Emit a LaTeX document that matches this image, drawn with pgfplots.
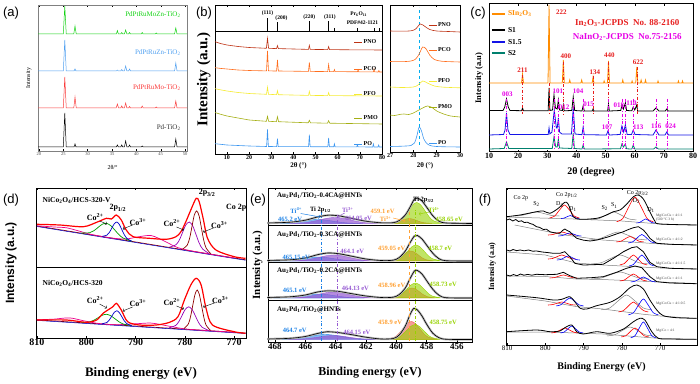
\documentclass[border=0pt]{standalone}
\usepackage{fontspec}
\setmainfont{Liberation Serif}
\setsansfont{Liberation Sans}
\usepackage{pgfplots}
\pgfplotsset{compat=1.18}
\newcommand\fs[1]{\fontsize{#1}{#1}\selectfont}
\definecolor{agreen}{RGB}{20,210,20}
\definecolor{ablue}{RGB}{80,160,240}
\definecolor{ared}{RGB}{250,60,60}
\definecolor{pno}{RGB}{190,50,20}
\definecolor{pco}{RGB}{255,110,30}
\definecolor{pfo}{RGB}{245,235,50}
\definecolor{pmo}{RGB}{165,175,20}
\definecolor{po}{RGB}{60,150,240}
\definecolor{corange}{RGB}{255,140,0}
\definecolor{cblue}{RGB}{20,20,230}
\definecolor{cteal}{RGB}{0,128,110}
\definecolor{cred}{RGB}{230,30,30}
\definecolor{cmag}{RGB}{230,0,230}
\definecolor{dgreen}{RGB}{0,160,0}
\definecolor{dblue}{RGB}{0,0,200}
\definecolor{dpurple}{RGB}{150,0,180}
\definecolor{ddred}{RGB}{140,0,0}
\definecolor{eblue}{RGB}{30,130,230}
\definecolor{epurple}{RGB}{150,90,210}
\definecolor{eorange}{RGB}{255,160,50}
\definecolor{ered}{RGB}{240,90,80}
\definecolor{egreen}{RGB}{150,210,0}
\pgfplotsset{
 panel/.style={scale only axis, anchor=south west, clip=false, ytick=\empty,
   axis line style={line width=0.6pt}, tick style={black, line width=0.4pt},
   major tick length=2pt, /pgf/number format/assume math mode=true,
   xticklabel style={inner sep=1pt}},
}
\begin{document}
\begin{tikzpicture}
\useasboundingbox (0pt,0pt) rectangle (700pt,383pt);
% ---------------- (a)
\begin{axis}[panel, at={(38pt,232pt)}, width=149pt, height=146pt,
  xmin=19.8, xmax=50.4, ymin=0, ymax=146, xtick={20,25,...,50},
  axis line style={gray, line width=0.4pt},
  ticklabel style={font=\fs{4.5}, text=black!70},
  xlabel={2θ/°}, xlabel style={font=\fs{6}, at={(axis description cs:0.5,0)}, anchor=center, yshift=-16pt},
  ylabel={Intensity}, ylabel style={font=\fs{6}, at={(axis description cs:-0.02,0.5)}, anchor=south}]
\addplot[black, line width=0.5pt] coordinates {(19.8,4)(25.0,4)(25.3,38)(25.6,4)(27.2,4)(27.4,7)(27.6,4)(35.9,4)(36.1,6)(36.3,4)(36.8,4)(37.0,6)(37.2,4)(37.55,4)(37.8,10)(38.05,4)(38.4,4)(38.6,6)(38.8,4)(41.0,4)(41.2,5)(41.4,4)(47.85,4)(48.1,12)(48.35,4)(50.4,4)};
\addplot[ared, line width=0.5pt] coordinates {(19.8,43)(25.0,43)(25.3,74)(25.6,43)(27.15,43)(27.4,54)(27.65,43)(35.85,43)(36.1,47)(36.35,43)(36.8,43)(37.0,45)(37.2,43)(37.55,43)(37.8,48)(38.05,43)(38.4,43)(38.6,44.5)(38.8,43)(41.0,43)(41.2,45)(41.4,43)(43.9,43)(44.1,44)(44.3,43)(47.85,43)(48.1,50)(48.35,43)(50.4,43)};
\addplot[ablue, line width=0.5pt] coordinates {(19.8,80)(25.0,80)(25.3,111)(25.6,80)(27.2,80)(27.4,82)(27.6,80)(35.9,80)(36.1,81)(36.3,80)(36.8,80)(37.0,81.5)(37.2,80)(37.55,80)(37.8,85)(38.05,80)(38.4,80)(38.6,82)(38.8,80)(47.85,80)(48.1,88)(48.35,80)(50.4,80)};
\addplot[agreen, line width=0.5pt] coordinates {(19.8,117)(25.0,117)(25.3,145)(25.6,117)(27.15,117)(27.4,125)(27.65,117)(35.9,117)(36.1,120.5)(36.3,117)(36.8,117)(37.0,118.5)(37.2,117)(37.55,117)(37.8,121)(38.05,117)(38.4,117)(38.6,118.5)(38.8,117)(41.0,117)(41.2,118.5)(41.4,117)(43.9,117)(44.1,118)(44.3,117)(47.85,117)(48.1,123)(48.35,117)(50.4,117)};
\node[anchor=east, font=\fs{7}, text=agreen] at (axis cs:49.8,136) {PdPtRuMoZn-TiO\textsubscript{2}};
\node[anchor=east, font=\fs{7}, text=ablue] at (axis cs:49.8,98) {PdPtRuZn-TiO\textsubscript{2}};
\node[anchor=east, font=\fs{7}, text=ared] at (axis cs:49.8,63) {PdPtRuMo-TiO\textsubscript{2}};
\node[anchor=east, font=\fs{7}, text=black!80] at (axis cs:49.8,23) {Pd-TiO\textsubscript{2}};
\end{axis}
% ---------------- (b) main
\begin{axis}[panel, at={(215pt,229pt)}, width=167pt, height=149pt,
  xmin=4.6, xmax=80, ymin=0, ymax=149, xtick={10,20,...,80},
  ticklabel style={font=\bfseries\fs{6}},
  xlabel={2θ (°)}, xlabel style={font=\bfseries\fs{7}, at={(axis description cs:0.5,0)}, anchor=center, yshift=-12pt},
  ylabel={Intensity (a.u.)}, ylabel style={font=\bfseries\fs{15}, at={(axis description cs:-0.005,0.5)}, anchor=south}]
\addplot[black, line width=0.5pt] coordinates {(4.6,123)(80,123)};
\draw[black, line width=1pt] (axis cs:28.3,123) -- (axis cs:28.3,136);
\draw[black, line width=0.8pt] (axis cs:32.8,123) -- (axis cs:32.8,132);
\draw[black, line width=0.8pt] (axis cs:47.2,123) -- (axis cs:47.2,133);
\draw[black, line width=0.8pt] (axis cs:55.9,123) -- (axis cs:55.9,133);
\draw[black, line width=0.5pt] (axis cs:58.3,123) -- (axis cs:58.3,126);
\draw[black, line width=0.5pt] (axis cs:68.6,123) -- (axis cs:68.6,126);
\draw[black, line width=0.5pt] (axis cs:76.4,123) -- (axis cs:76.4,126);
\draw[black, line width=0.5pt] (axis cs:78.6,123) -- (axis cs:78.6,126);
\node[font=\bfseries\fs{5.5}] at (axis cs:28.3,141) {(111)};
\node[font=\bfseries\fs{5.5}] at (axis cs:34.6,136) {(200)};
\node[font=\bfseries\fs{5.5}] at (axis cs:47.2,136.5) {(220)};
\node[font=\bfseries\fs{5.5}] at (axis cs:56.5,136.5) {(311)};
\node[font=\bfseries\fs{5.5}] at (axis cs:69.5,140) {Pr\textsubscript{6}O\textsubscript{11}};
\node[font=\bfseries\fs{5.5}] at (axis cs:71.2,131) {PDF\#42-1121};
\addplot[pno, line width=0.6pt] coordinates {(4.6,112.3)(7,110.5)(10,109)(15,107.5)(20,106.5)(27.8,105.7)(28.3,115.7)(28.8,105.7)(32.4,105.4)(32.8,108.4)(33.2,105.4)(46.8,104.6)(47.2,108.6)(47.6,104.6)(55.5,104.4)(55.9,107.4)(56.3,104.4)(65,104.2)(80,104)};
\addplot[pco, line width=0.6pt] coordinates {(4.6,86.3)(7,85.6)(10,85)(15,84)(20,83.5)(27.85,83.1)(28.3,103)(28.75,83.1)(32.4,83)(32.8,94)(33.2,83)(46.8,82.6)(47.2,91.6)(47.6,82.6)(55.5,82.4)(55.9,89.4)(56.3,82.4)(58.2,82.4)(58.5,84.4)(58.8,82.4)(68.9,82.2)(69.2,84.2)(69.5,82.2)(76.1,82.1)(76.4,85.1)(76.7,82.1)(78.3,82)(78.6,83.5)(78.9,82)(80,82)};
\addplot[pfo, line width=0.6pt] coordinates {(4.6,65.3)(7,64.2)(10,63)(15,61.5)(20,60.5)(27.85,59.7)(28.3,66.7)(28.75,59.7)(32.4,59.3)(32.8,63.3)(33.2,59.3)(46.8,58.6)(47.2,62.6)(47.6,58.6)(55.5,58.4)(55.9,61.4)(56.3,58.4)(80,58)};
\addplot[pmo, line width=0.6pt] coordinates {(4.6,41.5)(7,39.8)(10,38)(15,36)(20,34)(27.8,32.7)(28.3,37.7)(28.8,32.7)(32.3,32.3)(32.8,37.3)(33.3,32.3)(46.7,31.2)(47.2,33.7)(47.7,31.2)(55.4,30.8)(55.9,33.3)(56.4,30.8)(80,30)};
\addplot[po, line width=0.6pt] coordinates {(4.6,10.3)(10,9)(20,8)(27.9,7.5)(28.3,24.5)(28.7,7.5)(32.45,7.4)(32.8,15.4)(33.15,7.4)(46.85,7.3)(47.2,19.3)(47.55,7.3)(55.55,7.2)(55.9,16.2)(56.25,7.2)(58.2,7.2)(58.5,10.2)(58.8,7.2)(68.6,7.1)(68.9,9.1)(69.2,7.1)(75.8,7)(76.1,10)(76.4,7)(78.2,7)(78.5,9)(78.8,7)(80,7)};
\addplot[pno, line width=0.8pt] coordinates {(67.4,112)(71,112)};
\addplot[pco, line width=0.8pt] coordinates {(67.4,85)(71,85)};
\addplot[pfo, line width=0.8pt] coordinates {(67.4,60)(71,60)};
\addplot[pmo, line width=0.8pt] coordinates {(67.4,36)(71,36)};
\addplot[po, line width=0.8pt] coordinates {(67.4,10)(71,10)};
\node[anchor=west, font=\bfseries\fs{6}, inner sep=1pt] at (axis cs:71.2,112) {PNO};
\node[anchor=west, font=\bfseries\fs{6}, inner sep=1pt] at (axis cs:71.2,85) {PCO};
\node[anchor=west, font=\bfseries\fs{6}, inner sep=1pt] at (axis cs:71.2,60) {PFO};
\node[anchor=west, font=\bfseries\fs{6}, inner sep=1pt] at (axis cs:71.2,36) {PMO};
\node[anchor=west, font=\bfseries\fs{6}, inner sep=1pt] at (axis cs:71.2,10) {PO};
\end{axis}
% ---------------- (b) inset
\begin{axis}[panel, at={(390pt,231pt)}, width=70pt, height=147pt,
  xmin=27, xmax=30, ymin=0, ymax=147, xtick={27,28,29,30},
  ticklabel style={font=\bfseries\fs{6}},
  xlabel={2θ (°)}, xlabel style={font=\bfseries\fs{7}, at={(axis description cs:0.5,0)}, anchor=center, yshift=-14pt}]
\addplot[cyan, dashed, line width=0.7pt] coordinates {(28.25,7)(28.25,145)};
\addplot[pno, smooth, line width=0.6pt] coordinates {(27,121)(27.5,120.8)(27.9,121.2)(28.1,123)(28.3,128)(28.5,125.5)(28.7,122.5)(29,121)(29.5,120.5)(30,120)};
\addplot[pco, smooth, line width=0.6pt] coordinates {(27,90.5)(27.5,90.3)(27.9,91)(28.1,93)(28.25,98)(28.4,105)(28.55,103)(28.7,97)(28.9,92.5)(29.2,90.8)(29.6,90.3)(30,90)};
\addplot[pfo, smooth, line width=0.6pt] coordinates {(27,65)(27.5,64.5)(28,65)(28.2,67)(28.4,71)(28.6,69)(28.9,66)(29.3,64.8)(30,64.2)};
\addplot[pmo, smooth, line width=0.6pt] coordinates {(27,37)(27.2,36.5)(27.4,37.5)(27.6,38)(27.8,37.5)(28,39)(28.2,41.5)(28.4,44)(28.6,46)(28.8,44.5)(29,41)(29.3,38)(29.6,36)(30,35)};
\addplot[po, smooth, line width=0.6pt] coordinates {(27,5.5)(27.5,5.8)(27.9,6.5)(28.05,9)(28.15,16)(28.25,25)(28.35,21)(28.45,13)(28.6,8)(28.8,6)(29.2,5.3)(30,5)};
\addplot[pno, line width=0.8pt] coordinates {(28.67,127)(29.01,127)};
\addplot[pco, line width=0.8pt] coordinates {(28.67,102)(29.01,102)};
\addplot[pfo, line width=0.8pt] coordinates {(28.67,71)(29.01,71)};
\addplot[pmo, line width=0.8pt] coordinates {(28.67,45)(29.01,45)};
\addplot[po, line width=0.8pt] coordinates {(28.67,9)(29.01,9)};
\node[anchor=west, font=\bfseries\fs{6}, inner sep=0.5pt] at (axis cs:29.03,127) {PNO};
\node[anchor=west, font=\bfseries\fs{6}, inner sep=0.5pt] at (axis cs:29.03,102) {PCO};
\node[anchor=west, font=\bfseries\fs{6}, inner sep=0.5pt] at (axis cs:29.03,71) {PFO};
\node[anchor=west, font=\bfseries\fs{6}, inner sep=0.5pt] at (axis cs:29.03,45) {PMO};
\node[anchor=west, font=\bfseries\fs{6}, inner sep=0.5pt] at (axis cs:29.03,9) {PO};
\end{axis}
% ---------------- (c)
\begin{axis}[panel, at={(489pt,231pt)}, width=204pt, height=148pt,
  xmin=10, xmax=80, ymin=0, ymax=148, xtick={10,20,...,80},
  axis line style={line width=1pt},
  ticklabel style={font=\bfseries\fs{8}},
  xlabel={2θ (degree)}, xlabel style={font=\bfseries\fs{10}, at={(axis description cs:0.5,0)}, anchor=center, yshift=-20pt},
  ylabel={Intensity (a.u)}, ylabel style={font=\bfseries\fs{8.5}, at={(axis description cs:-0.012,0.5)}, anchor=south}]
\addplot[corange, line width=0.8pt] coordinates {(10,69)(21.15,69)(21.5,78)(21.85,69)(30.25,69)(30.6,147)(30.95,69)(35.15,69)(35.5,92)(35.85,69)(37.45,69)(37.7,72)(37.95,69)(41.55,69)(41.8,72)(42.05,69)(45.4,69)(45.7,75)(46.0,69)(49.3,69)(49.5,71)(49.7,69)(50.65,69)(51.0,91)(51.35,69)(55.65,69)(55.9,72)(56.15,69)(58.9,69)(59.1,71)(59.3,69)(60.35,69)(60.7,85)(61.05,69)(61.95,69)(62.2,72)(62.45,69)(63.45,69)(63.7,72)(63.95,69)(67.8,69)(68,71)(68.2,69)(74.8,69)(75,71)(75.2,69)(76.2,69)(76.4,71)(76.6,69)(80,69)};
\addplot[black, line width=0.8pt] coordinates {(10,41.5)(14.8,41.5)(15.4,45)(16.0,53)(16.6,45)(17.2,41.5)(21.2,41.3)(21.5,44)(21.8,41.3)(30.3,41.2)(30.6,64)(30.9,41.5)(31.8,42)(32.3,57)(32.8,44)(33.4,43)(33.8,52)(34.2,42)(35.2,41.5)(35.5,47)(35.8,41.2)(38.4,41.5)(38.9,55)(39.4,41.5)(41.9,41)(42.3,46)(42.7,41)(45.4,41)(45.7,43)(46.0,41)(50.7,41)(51.0,48)(51.3,41)(55.2,41.5)(55.6,47)(56.1,43)(56.8,49)(57.2,41.5)(59.0,41.2)(59.5,45)(60.0,42)(60.7,47)(61.0,41)(66.3,41)(67.3,44)(68.3,41)(70.5,41)(71,43)(71.5,41)(80,41)};
\addplot[cblue, line width=0.8pt] coordinates {(10,17)(15.0,17.5)(15.5,22)(16.0,39)(16.5,22)(17.2,17.5)(30.3,17.5)(30.6,24)(30.9,18)(31.6,20)(32.4,42)(33.1,24)(33.4,24)(33.8,34)(34.2,20)(35,18)(38.3,18)(38.9,44)(39.5,18)(41.9,17.3)(42.3,25)(42.7,17.3)(50.3,17)(50.8,21)(51.3,17)(55.0,17.5)(55.6,26)(56.2,20)(56.8,27)(57.4,17.5)(58.9,17.5)(59.5,22)(60.1,17.5)(66.3,17)(67.3,22)(68.3,17)(70.4,17)(71,20)(71.6,17)(80,17)};
\addplot[cteal, line width=0.8pt] coordinates {(10,3)(15.2,3.5)(16.0,10)(16.8,3.5)(31.7,3.5)(32.3,15)(32.9,5)(33.4,5)(33.8,13)(34.2,4)(38.4,3.5)(38.9,19)(39.3,3.5)(41.9,3)(42.3,7)(42.7,3)(55.1,3.2)(55.6,8)(56.1,5)(56.8,8)(57.2,3.2)(59,3)(59.5,7)(60,3)(66.5,3)(67.3,5)(68.1,3)(80,3)};
\foreach \xx/\yy in {21.5/77,30.6/69,35.5/90,45.7/76,51.0/90,60.7/85}{
 \edef\tmp{\noexpand\draw[cred, dash dot, line width=0.5pt] (axis cs:\xx,\yy) -- (axis cs:\xx,38);}\tmp}
\foreach \xx in {16.0,32.3,33.8,38.9,42.3,50.8,55.6,56.8,59.5,67.3,71}{
 \edef\tmp{\noexpand\draw[cmag, dash dot, line width=0.5pt] (axis cs:\xx,53) -- (axis cs:\xx,2);}\tmp}
\begin{scope}[every node/.style={font=\bfseries\fs{7}, text=cred, inner sep=0.5pt}]
\node at (axis cs:21.5,82) {211};
\node at (axis cs:34.8,140) {222};
\node at (axis cs:36.4,96) {400};
\node at (axis cs:46.3,80) {134};
\node at (axis cs:51.3,97) {440};
\node at (axis cs:61.2,90) {622};
\node[font=\bfseries\fs{9}] at (axis cs:57.4,129) {In\textsubscript{2}O\textsubscript{3}-JCPDS\ \ No. 88-2160};
\end{scope}
\begin{scope}[every node/.style={font=\bfseries\fs{7}, text=cmag, inner sep=0.5pt}]
\node[font=\bfseries\fs{9}] at (axis cs:57.4,115) {NaInO\textsubscript{2}-JCPDS\ \ No.75-2156};
\node at (axis cs:16.3,58) {003};
\node at (axis cs:33.6,61) {101};
\node at (axis cs:40.6,61) {104};
\node at (axis cs:44.2,48) {015};
\node at (axis cs:35.8,45) {012};
\node at (axis cs:54.6,47) {018};
\node at (axis cs:58.9,49) {110};
\node at (axis cs:50.5,25) {107};
\node at (axis cs:61.2,25) {113};
\node at (axis cs:67.4,26) {116};
\node at (axis cs:72.3,26) {024};
\end{scope}
\addplot[corange, line width=1.2pt] coordinates {(11,138)(15.5,138)};
\addplot[black, line width=1.2pt] coordinates {(11,122)(15.5,122)};
\addplot[cblue, line width=1.2pt] coordinates {(11,110)(15.5,110)};
\addplot[cteal, line width=1.2pt] coordinates {(11,99)(15.5,99)};
\node[anchor=west, font=\bfseries\fs{7.5}, text=corange, inner sep=0.5pt] at (axis cs:16.3,138) {SIn\textsubscript{2}O\textsubscript{3}};
\node[anchor=west, font=\bfseries\fs{7.5}, inner sep=0.5pt] at (axis cs:16.3,122) {S1};
\node[anchor=west, font=\bfseries\fs{7.5}, inner sep=0.5pt] at (axis cs:16.3,110) {S1.5};
\node[anchor=west, font=\bfseries\fs{7.5}, inner sep=0.5pt] at (axis cs:16.3,99) {S2};
\end{axis}
% ---------------- (d)
\begin{axis}[panel, at={(36pt,45pt)}, width=210pt, height=150pt,
  x dir=reverse, xmin=767.6, xmax=810.2, ymin=0, ymax=150, xtick={810,800,...,770},
  axis line style={line width=0.8pt},
  ticklabel style={font=\bfseries\fs{10}},
  xlabel={Binding energy (eV)}, xlabel style={font=\bfseries\fs{13}, at={(axis description cs:0.5,0)}, anchor=center, yshift=-35pt},
  ylabel={\sffamily Intensity (a.u.)}, ylabel style={font=\bfseries\fs{12}, at={(axis description cs:-0.075,0.5)}, anchor=south}]
\addplot[black, line width=0.6pt] coordinates {(767.6,71)(810.2,71)};
% top
\addplot[ddred, line width=0.7pt] coordinates {(810,112)(790,96)(770,80)(767.7,78.2)};
\addplot[dblue, line width=0.5pt] coordinates {(810,111.5)(790,95.5)(770,79.5)(767.7,77.8)};
\addplot[magenta, smooth, line width=0.7pt] coordinates {(810,112.2)(806.5,111.0)(804,110.2)(801.5,107.0)(799,103.6)(795,100.1)(792,99.0)(789.5,101.1)(786.8,102.4)(784,96.5)(781.5,90.5)(778,86.5)(770,80)};
\addplot[dgreen, smooth, line width=0.7pt] coordinates {(790.8,96.8)(792.5,99.9)(793.35,103.2)(794.2,107.9)(795.05,112.4)(795.9,114.7)(796.75,113.8)(797.6,110.6)(798.45,107.3)(799.3,105.3)(801.0,105.0)};
\addplot[dblue, smooth, line width=0.7pt] coordinates {(790.8,96.8)(791.8,99.7)(792.3,103.3)(792.8,108.5)(793.3,113.6)(793.8,116.0)(794.3,114.4)(794.8,110.1)(795.3,105.7)(795.8,102.9)(796.8,101.6)};
\addplot[dpurple, smooth, line width=0.7pt] coordinates {(775.05,84.3)(776.4,89.0)(777.1,95.0)(777.75,103.6)(778.4,112.0)(779.1,116.0)(779.8,113.1)(780.45,105.8)(781.1,98.2)(781.8,93.3)(783.15,90.8)};
\addplot[ddred, smooth, line width=0.7pt] coordinates {(774.75,84.3)(775.7,90.1)(776.2,98.3)(776.65,110.2)(777.1,121.9)(777.6,127.1)(778.1,122.7)(778.55,111.7)(779.0,100.5)(779.5,93.1)(780.45,88.9)};
\addplot[red, smooth, line width=1.2pt] coordinates {(810,113.7)(805.4,113)(800.6,111.3)(797.9,115.7)(795.9,119.7)(794.9,119)(793.9,123)(792.9,118)(791.9,108)(790.5,101.3)(787.2,99.7)(783.8,98.7)(781.8,101.3)(780.8,106.3)(779.8,116.3)(778.8,128)(777.7,139.7)(777.1,136.3)(776.3,119.7)(775.4,99.7)(773.7,88)(770,81.3)(767.7,79.7)};
% bottom
\addplot[ddred, line width=0.7pt] coordinates {(810,18.1)(790,11.9)(770,5.7)(767.7,5)};
\addplot[dblue, line width=0.5pt] coordinates {(810,17.6)(790,11.4)(770,5.2)(767.7,4.5)};
\addplot[magenta, smooth, line width=0.7pt] coordinates {(810,18.2)(806.5,18.9)(803.4,20.1)(800.5,17.2)(797.5,14.5)(794,13.3)(790,14.2)(786.8,14.9)(783.5,12.1)(780,9.1)(776,7.6)(770,5.7)};
\addplot[dgreen, smooth, line width=0.7pt] coordinates {(790.8,12.3)(792.5,14.0)(793.35,16.2)(794.2,19.3)(795.05,22.3)(795.9,23.7)(796.75,22.8)(797.6,20.3)(798.45,17.8)(799.3,16.1)(801.0,15.4)};
\addplot[dblue, smooth, line width=0.7pt] coordinates {(790.8,12.3)(791.8,14.4)(792.3,17.2)(792.8,21.4)(793.3,25.4)(793.8,27.3)(794.3,25.8)(794.8,22.0)(795.3,18.2)(795.8,15.6)(796.8,14.2)};
\addplot[dpurple, smooth, line width=0.7pt] coordinates {(775.15,7.55)(776.5,10.8)(777.2,15.3)(777.85,21.9)(778.5,28.3)(779.2,31.2)(779.9,28.8)(780.55,22.8)(781.2,16.6)(781.9,12.5)(783.25,10.05)};
\addplot[ddred, smooth, line width=0.7pt] coordinates {(774.8,7.6)(775.7,12.9)(776.15,20.6)(776.6,32.1)(777.05,43.2)(777.5,48.0)(777.95,43.5)(778.4,32.6)(778.85,21.4)(779.3,14.0)(780.2,9.3)};
\addplot[red, smooth, line width=1.2pt] coordinates {(810,18)(804,18)(800,15.7)(797.9,18)(796.6,24.7)(794.6,31.3)(793.9,34.7)(792.9,28)(791.6,16.3)(789.2,13)(785.8,13)(783.1,15.7)(781.4,21.3)(780.1,38)(778.8,53)(777.7,59.7)(776.7,53)(775.7,29.7)(774.4,13)(770,6.3)(767.7,4.7)};
\begin{scope}[every node/.style={font=\bfseries\fs{7.5}, inner sep=0.5pt}]
\node[anchor=west] at (axis cs:809,138) {NiCo\textsubscript{2}O\textsubscript{4}/HCS-320-V};
\node[anchor=west] at (axis cs:809,55) {NiCo\textsubscript{2}O\textsubscript{4}/HCS-320};
\node[font=\bfseries\fs{8}] at (axis cs:798.2,121) {Co\textsuperscript{2+}};
\node[font=\bfseries\fs{8}] at (axis cs:793.6,130) {2p\textsubscript{1/2}};
\node[font=\bfseries\fs{8}] at (axis cs:789.5,116) {Co\textsuperscript{3+}};
\node[font=\bfseries\fs{8}] at (axis cs:782.6,115) {Co\textsuperscript{2+}};
\node[font=\bfseries\fs{8}] at (axis cs:775.5,145) {2p\textsubscript{3/2}};
\node[font=\bfseries\fs{8}] at (axis cs:773.0,113) {Co\textsuperscript{3+}};
\node[font=\bfseries\fs{8}] at (axis cs:769.6,130) {Co 2p};
\node[font=\bfseries\fs{8}] at (axis cs:798.2,38) {Co\textsuperscript{2+}};
\node[font=\bfseries\fs{8}] at (axis cs:789.5,35) {Co\textsuperscript{3+}};
\node[font=\bfseries\fs{8}] at (axis cs:782.6,36) {Co\textsuperscript{2+}};
\node[font=\bfseries\fs{8}] at (axis cs:772.8,38) {Co\textsuperscript{3+}};
\end{scope}
\draw[->, line width=0.4pt] (axis cs:797.3,117) -- (axis cs:795.8,114);
\draw[->, line width=0.4pt] (axis cs:790.6,113) -- (axis cs:792.6,109);
\draw[->, line width=0.4pt] (axis cs:781.7,111) -- (axis cs:780.2,108);
\draw[->, line width=0.4pt] (axis cs:774.2,110) -- (axis cs:776.3,106);
\draw[->, line width=0.4pt] (axis cs:797.3,34) -- (axis cs:795.8,30);
\draw[->, line width=0.4pt] (axis cs:790.6,31) -- (axis cs:792.6,27);
\draw[->, line width=0.4pt] (axis cs:781.7,32) -- (axis cs:780.2,29);
\draw[->, line width=0.4pt] (axis cs:774.0,35) -- (axis cs:776.3,31);
\end{axis}
% ---------------- (e)
\begin{axis}[panel, at={(268pt,41pt)}, width=204pt, height=154pt,
  x dir=reverse, xmin=455, xmax=468.46, ymin=0, ymax=154, xtick={468,466,...,456},
  axis line style={line width=0.8pt},
  ticklabel style={font=\bfseries\fs{9}},
  xlabel={Binding energy (eV)}, xlabel style={font=\bfseries\fs{12}, at={(axis description cs:0.5,0)}, anchor=center, yshift=-31pt},
  ylabel={Intensity (a.u.)}, ylabel style={font=\bfseries\fs{11}, at={(axis description cs:-0.01,0.5)}, anchor=south}]
\addplot[black, line width=0.6pt] coordinates {(455,117)(468.46,117)};
\addplot[black, line width=0.6pt] coordinates {(455,80)(468.46,80)};
\addplot[black, line width=0.6pt] coordinates {(455,42)(468.46,42)};
% section 1
\addplot[smooth, draw=eblue, fill=eblue, fill opacity=0.55] coordinates {(462.2,118.5)(463.2,119.0)(463.7,119.8)(464.2,120.9)(464.7,122.0)(465.2,122.5)(465.7,122.0)(466.2,120.9)(466.7,119.8)(467.2,119.0)(468.2,118.5)} -- cycle;
\addplot[smooth, draw=epurple, fill=epurple, fill opacity=0.7] coordinates {(461.05,118.6)(462.05,119.3)(462.55,120.5)(463.05,122.1)(463.55,123.8)(464.05,124.5)(464.55,123.8)(465.05,122.1)(465.55,120.5)(466.05,119.3)(467.05,118.6)} -- cycle;
\addplot[smooth, draw=ered, fill=ered, fill opacity=0.6] coordinates {(457.65,118.6)(458.15,119.2)(458.4,120.1)(458.65,121.5)(458.9,122.9)(459.15,123.5)(459.4,122.9)(459.65,121.5)(459.9,120.1)(460.15,119.2)(460.65,118.6)} -- cycle;
\addplot[smooth, draw=egreen, fill=egreen, fill opacity=0.6] coordinates {(457.0,118.7)(457.55,121.3)(457.83,125.3)(458.1,131.2)(458.38,137.0)(458.65,139.5)(458.93,137.0)(459.2,131.2)(459.48,125.3)(459.75,121.3)(460.3,118.7)} -- cycle;
\addplot[smooth, gray!55, line width=2.2pt] coordinates {(468.5,119)(467,119.8)(466,121.8)(465.2,125)(464.5,126.8)(463.8,126.2)(463,123.8)(462,120.8)(461,119.2)(460.2,119.3)(459.8,121.5)(459.4,127)(459.1,134.5)(458.8,143)(458.6,144)(458.3,141)(458,135)(457.6,126.5)(457.2,121)(456.7,119)(455,118.5)};
\addplot[smooth, black, line width=0.6pt] coordinates {(468.5,119)(467,119.8)(466,121.8)(465.2,125)(464.5,126.8)(463.8,126.2)(463,123.8)(462,120.8)(461,119.2)(460.2,119.3)(459.8,121.5)(459.4,127)(459.1,134.5)(458.8,143)(458.6,144)(458.3,141)(458,135)(457.6,126.5)(457.2,121)(456.7,119)(455,118.5)};
% section 2
\addplot[smooth, draw=eblue, fill=eblue, fill opacity=0.55] coordinates {(462.15,81.0)(463.15,81.5)(463.65,82.3)(464.15,83.4)(464.65,84.5)(465.15,85.0)(465.65,84.5)(466.15,83.4)(466.65,82.3)(467.15,81.5)(468.15,81.0)} -- cycle;
\addplot[smooth, draw=epurple, fill=epurple, fill opacity=0.7] coordinates {(461.1,81.1)(462.1,81.8)(462.6,83.0)(463.1,84.6)(463.6,86.3)(464.1,87.0)(464.6,86.3)(465.1,84.6)(465.6,83.0)(466.1,81.8)(467.1,81.1)} -- cycle;
\addplot[smooth, draw=ered, fill=ered, fill opacity=0.6] coordinates {(457.55,81.1)(458.05,82.35)(458.3,84.25)(458.55,87.1)(458.8,89.8)(459.05,91.0)(459.3,89.8)(459.55,87.1)(459.8,84.25)(460.05,82.35)(460.55,81.1)} -- cycle;
\addplot[smooth, draw=egreen, fill=egreen, fill opacity=0.6] coordinates {(457.05,81.2)(457.6,83.2)(457.88,86.2)(458.15,90.7)(458.43,95.1)(458.7,97.0)(458.98,95.1)(459.25,90.7)(459.53,86.2)(459.8,83.2)(460.35,81.2)} -- cycle;
\addplot[smooth, gray!55, line width=2.2pt] coordinates {(468.5,81.5)(467,82.2)(466,84)(465.2,87.3)(464.5,89)(463.8,88.3)(463,86)(462,83)(461,81.5)(460.2,81.8)(459.8,84.5)(459.4,91)(459.1,99)(458.8,106)(458.6,106.5)(458.3,103)(458,97)(457.6,89)(457.2,83.5)(456.7,81.3)(455,81)};
\addplot[smooth, black, line width=0.6pt] coordinates {(468.5,81.5)(467,82.2)(466,84)(465.2,87.3)(464.5,89)(463.8,88.3)(463,86)(462,83)(461,81.5)(460.2,81.8)(459.8,84.5)(459.4,91)(459.1,99)(458.8,106)(458.6,106.5)(458.3,103)(458,97)(457.6,89)(457.2,83.5)(456.7,81.3)(455,81)};
% section 3
\addplot[smooth, draw=eblue, fill=eblue, fill opacity=0.55] coordinates {(462.1,44.0)(463.1,44.5)(463.6,45.3)(464.1,46.4)(464.6,47.5)(465.1,48.0)(465.6,47.5)(466.1,46.4)(466.6,45.3)(467.1,44.5)(468.1,44.0)} -- cycle;
\addplot[smooth, draw=epurple, fill=epurple, fill opacity=0.7] coordinates {(461.13,44.1)(462.13,44.8)(462.63,46.0)(463.13,47.6)(463.63,49.3)(464.13,50.0)(464.63,49.3)(465.13,47.6)(465.63,46.0)(466.13,44.8)(467.13,44.1)} -- cycle;
\addplot[smooth, draw=ered, fill=ered, fill opacity=0.6] coordinates {(457.46,44.1)(457.96,45.35)(458.21,47.25)(458.46,50.1)(458.71,52.8)(458.96,54.0)(459.21,52.8)(459.46,50.1)(459.71,47.25)(459.96,45.35)(460.46,44.1)} -- cycle;
\addplot[smooth, draw=egreen, fill=egreen, fill opacity=0.6] coordinates {(457.08,44.2)(457.63,46.0)(457.91,48.9)(458.18,53.1)(458.46,57.2)(458.73,59.0)(459.01,57.2)(459.28,53.1)(459.56,48.9)(459.83,46.0)(460.38,44.2)} -- cycle;
\addplot[smooth, gray!55, line width=2.2pt] coordinates {(468.5,44.5)(467,45.2)(466,47)(465.2,50)(464.5,51.2)(463.8,50.6)(463,48.5)(462,46)(461,44.5)(460.2,44.8)(459.8,47.5)(459.4,54)(459.1,63)(458.8,71)(458.6,71.5)(458.3,68)(458,61.5)(457.6,53)(457.2,47)(456.7,44.3)(455,44)};
\addplot[smooth, black, line width=0.6pt] coordinates {(468.5,44.5)(467,45.2)(466,47)(465.2,50)(464.5,51.2)(463.8,50.6)(463,48.5)(462,46)(461,44.5)(460.2,44.8)(459.8,47.5)(459.4,54)(459.1,63)(458.8,71)(458.6,71.5)(458.3,68)(458,61.5)(457.6,53)(457.2,47)(456.7,44.3)(455,44)};
% section 4
\addplot[smooth, draw=eblue, fill=eblue, fill opacity=0.55] coordinates {(461.4,2.55)(462.5,3.2)(463.05,4.1)(463.6,5.5)(464.15,6.9)(464.7,7.5)(465.25,6.9)(465.8,5.5)(466.35,4.1)(466.9,3.2)(468.0,2.55)} -- cycle;
\addplot[smooth, draw=epurple, fill=epurple, fill opacity=0.7] coordinates {(461.15,2.55)(462.15,3.05)(462.65,3.8)(463.15,4.9)(463.65,6.0)(464.15,6.5)(464.65,6.0)(465.15,4.9)(465.65,3.8)(466.15,3.05)(467.15,2.55)} -- cycle;
\addplot[smooth, draw=ered, fill=ered, fill opacity=0.6] coordinates {(457.35,2.7)(457.9,4.9)(458.18,8.35)(458.45,13.4)(458.73,18.4)(459.0,20.5)(459.28,18.4)(459.55,13.4)(459.83,8.35)(460.1,4.9)(460.65,2.7)} -- cycle;
\addplot[smooth, draw=egreen, fill=egreen, fill opacity=0.6] coordinates {(457.1,2.7)(457.65,4.5)(457.93,7.4)(458.2,11.6)(458.48,15.7)(458.75,17.5)(459.03,15.7)(459.3,11.6)(459.58,7.4)(459.85,4.5)(460.4,2.7)} -- cycle;
\addplot[smooth, gray!55, line width=2.2pt] coordinates {(468.5,3)(467,3.7)(466,5.5)(465.2,8.5)(464.6,10.2)(463.9,9.6)(463,7.5)(462,4.8)(461,3)(460.2,3.5)(459.8,7)(459.4,16)(459.1,27)(458.85,33.5)(458.6,32)(458.3,26)(458,18)(457.6,9)(457.2,4.5)(456.7,2.7)(455,2.5)};
\addplot[smooth, black, line width=0.6pt] coordinates {(468.5,3)(467,3.7)(466,5.5)(465.2,8.5)(464.6,10.2)(463.9,9.6)(463,7.5)(462,4.8)(461,3)(460.2,3.5)(459.8,7)(459.4,16)(459.1,27)(458.85,33.5)(458.6,32)(458.3,26)(458,18)(457.6,9)(457.2,4.5)(456.7,2.7)(455,2.5)};
\addplot[eblue, dash dot, line width=0.9pt] coordinates {(464.95,1)(464.95,130)};
\addplot[epurple, dash dot, line width=0.9pt] coordinates {(463.85,1)(463.85,127)};
\addplot[eorange, dashed, line width=0.9pt] coordinates {(459.16,1)(459.16,133)};
\addplot[egreen, dash dot, line width=0.9pt] coordinates {(458.72,1)(458.72,132)};
\begin{scope}[every node/.style={font=\bfseries\fs{6.5}, inner sep=0.5pt}]
\node[anchor=west, font=\bfseries\fs{7}] at (axis cs:467.9,146.5) {Au\textsubscript{2}Pd\textsubscript{1}/TiO\textsubscript{2}-0.4CA@HNTs};
\node[anchor=west, font=\bfseries\fs{7}] at (axis cs:467.9,107) {Au\textsubscript{2}Pd\textsubscript{1}/TiO\textsubscript{2}-0.3CA@HNTs};
\node[anchor=west, font=\bfseries\fs{7}] at (axis cs:467.9,71) {Au\textsubscript{2}Pd\textsubscript{1}/TiO\textsubscript{2}-0.2CA@HNTs};
\node[anchor=west, font=\bfseries\fs{7}] at (axis cs:467.9,32) {Au\textsubscript{2}Pd\textsubscript{1}/TiO\textsubscript{2}@HNTs};
\node[text=eblue] at (axis cs:467.0,123) {465.2 eV};
\node[text=eblue] at (axis cs:466.6,85) {465.15 eV};
\node[text=eblue] at (axis cs:466.7,52) {465.1 eV};
\node[text=eblue] at (axis cs:466.7,12) {464.7 eV};
\node[text=epurple] at (axis cs:462.5,124) {464.05 eV};
\node[text=epurple] at (axis cs:462.9,91) {464.1 eV};
\node[text=epurple] at (axis cs:462.7,54) {464.13 eV};
\node[text=epurple] at (axis cs:462.6,10) {464.15 eV};
\node[text=eorange] at (axis cs:460.9,131) {459.1 eV};
\node[text=eorange] at (axis cs:460.3,94) {459.05 eV};
\node[text=eorange] at (axis cs:460.3,57) {458.96 eV};
\node[text=eorange] at (axis cs:460.4,20) {458.9 eV};
\node[text=egreen] at (axis cs:456.5,123) {458.65 eV};
\node[text=egreen] at (axis cs:457.1,94) {458.7 eV};
\node[text=egreen] at (axis cs:456.9,58) {458.73 eV};
\node[text=egreen] at (axis cs:456.9,20) {458.75 eV};
\node at (axis cs:465.0,132.5) {Ti 2p\textsubscript{1/2}};
\node[text=eblue] at (axis cs:466.6,131.5) {Ti\textsuperscript{4+}};
\node[text=epurple] at (axis cs:463.2,132) {Ti\textsuperscript{3+}};
\node at (axis cs:458.2,142) {Ti 2p\textsubscript{3/2}};
\node[text=eorange] at (axis cs:460.7,123) {Ti\textsuperscript{3+}};
\node[text=egreen] at (axis cs:457.5,132) {Ti\textsuperscript{4+}};
\end{scope}
\draw[->, eblue, line width=0.5pt] (axis cs:466.3,128.5) -- (axis cs:465.0,125);
\draw[->, epurple, line width=0.5pt] (axis cs:463.4,129) -- (axis cs:463.9,125);
\draw[->, eorange, line width=0.5pt] (axis cs:460.2,124) -- (axis cs:459.4,121);
\draw[->, egreen, line width=0.5pt] (axis cs:457.8,130) -- (axis cs:458.5,128);
\end{axis}
% ---------------- (f)
\begin{axis}[panel, at={(506pt,38pt)}, width=191pt, height=157pt,
  x dir=reverse, xmin=760.4, xmax=810.26, ymin=0, ymax=157, xtick={810,800,...,770},
  axis line style={line width=0.6pt},
  ticklabel style={font=\fs{7}},
  xlabel={Binding Energy (eV)}, xlabel style={font=\bfseries\fs{10}, at={(axis description cs:0.5,0)}, anchor=center, yshift=-22pt},
  ylabel={Intensity (a.u)}, ylabel style={font=\bfseries\fs{8}, at={(axis description cs:-0.035,0.5)}, anchor=south}]
% curve 1
\addplot[gray, line width=0.5pt] coordinates {(810.1,128)(792.7,126)(780,124)(770,121)(760.5,120)};
\addplot[gray, smooth, line width=0.5pt] coordinates {(808.3,129)(806.3,129.5)(804.3,131.4)(802.3,133)(800.3,131.4)(798.3,129.5)(796.3,129)};
\addplot[gray, smooth, line width=0.5pt] coordinates {(788.2,125.1)(786.2,126.1)(784.2,129.9)(782.2,133)(780.2,129.9)(778.2,126.1)(776.2,125.1)};
\addplot[red, smooth, line width=0.6pt] coordinates {(798.9,127.1)(797.6,128.8)(796.3,134.9)(795.0,140.0)(793.7,134.9)(792.4,128.8)(791.1,127.1)};
\addplot[blue, smooth, line width=0.6pt] coordinates {(795.9,126.5)(795.1,126.9)(794.3,128.3)(793.5,129.5)(792.7,128.3)(791.9,126.9)(791.1,126.5)};
\addplot[red, smooth, line width=0.6pt] coordinates {(781.4,123.3)(779.8,126.4)(778.2,138.2)(776.6,148.0)(775.0,138.2)(773.4,126.4)(771.8,123.3)};
\addplot[blue, smooth, line width=0.6pt] coordinates {(776.2,122.0)(775.4,122.5)(774.6,124.4)(773.8,126.0)(773.0,124.4)(772.2,122.5)(771.4,122.0)};
\addplot[black, smooth, line width=0.8pt] coordinates {(810.1,128.3)(806.6,130)(802.3,133.3)(800.5,134)(798.8,131.7)(796.6,136.7)(794.9,142.7)(794.0,140.7)(792.7,128.3)(790.9,125.7)(786.6,126.7)(784.0,130)(782.2,133.3)(780.5,135)(778.8,140.7)(777.0,148.3)(775.7,150)(774.4,146)(772.7,133.3)(771.4,124)(770.1,121)(760.5,120)};
% curve 2
\addplot[gray, line width=0.5pt] coordinates {(808,120)(795,110)(785,105)(770,101)(760.5,100)};
\addplot[gray, smooth, line width=0.5pt] coordinates {(788.5,105.1)(786.0,106.1)(783.5,109.9)(781.0,113.0)(778.5,109.9)(776.0,106.1)(773.5,105.1)};
\addplot[red, smooth, line width=0.6pt] coordinates {(799.3,110.0)(798.1,110.4)(796.9,111.8)(795.7,113.0)(794.5,111.8)(793.3,110.4)(792.1,110.0)};
\addplot[blue, smooth, line width=0.6pt] coordinates {(796.6,109.0)(795.6,109.4)(794.6,110.8)(793.6,112.0)(792.6,110.8)(791.6,109.4)(790.6,109.0)};
\addplot[red, smooth, line width=0.6pt] coordinates {(781.5,103.1)(780.3,103.7)(779.1,106.3)(777.9,108.5)(776.7,106.3)(775.5,103.7)(774.3,103.1)};
\addplot[blue, smooth, line width=0.6pt] coordinates {(778.4,102.1)(777.2,103.1)(776.0,107.2)(774.8,110.5)(773.6,107.2)(772.4,103.1)(771.2,102.1)};
\addplot[black, line width=0.8pt] coordinates {(810.1,125)(809.3,126)(808.5,124)(807.7,125.5)(807,123.5)(806.2,124.2)(805.5,122.5)(804.7,122.8)(804,121.5)(803.2,120.6)(802.3,118.3)(801.5,117.6)(800.5,115.5)(799.7,115.8)(798.8,113.3)(798,112.5)(797,112)(796.2,111.7)(795.5,114.5)(794.9,116)(794.3,114.5)(793.6,113.3)(792.8,110)(791.8,106.7)(790,104.8)(788.3,104)(786.5,105)(784.9,106.7)(783.5,108.2)(782.2,110)(780.8,111.8)(779.6,113.3)(778.3,115.5)(777.0,117.3)(775.7,118.3)(774.4,115)(773.5,111)(772.7,106.7)(771.8,104)(770.9,101.7)(767.4,100.7)(760.5,100)};
% curve 3
\addplot[gray, line width=0.5pt] coordinates {(810.1,93)(800,90)(792,82)(785,80)(770,77)(760.5,76)};
\addplot[gray, smooth, line width=0.5pt] coordinates {(788.0,81.1)(785.5,82.2)(783.0,86.5)(780.5,90.0)(778.0,86.5)(775.5,82.2)(773.0,81.1)};
\addplot[red, smooth, line width=0.6pt] coordinates {(799.3,86.0)(798.1,86.5)(796.9,88.4)(795.7,90.0)(794.5,88.4)(793.3,86.5)(792.1,86.0)};
\addplot[blue, smooth, line width=0.6pt] coordinates {(797.0,85.0)(796.0,85.5)(795.0,87.4)(794.0,89.0)(793.0,87.4)(792.0,85.5)(791.0,85.0)};
\addplot[red, smooth, line width=0.6pt] coordinates {(780.6,80.1)(779.4,81.4)(778.2,86.1)(777.0,90.0)(775.8,86.1)(774.6,81.4)(773.4,80.1)};
\addplot[blue, smooth, line width=0.6pt] coordinates {(778.1,79.1)(777.0,80.5)(775.9,85.7)(774.8,90.0)(773.7,85.7)(772.6,80.5)(771.5,79.1)};
\addplot[black, line width=0.8pt] coordinates {(810.1,95)(809.2,94)(808.4,95.5)(807.5,94.3)(806.6,95)(805.5,94.2)(804.4,95)(803.3,93.8)(802.3,94)(800.8,93)(799.5,92.5)(797.9,91.7)(796.2,91.7)(794.9,93.3)(793.6,88.3)(792.3,81.7)(790.1,80)(787.5,80.3)(784.9,80.7)(782.2,86.7)(779.6,93.3)(777.5,97.3)(776.1,98.3)(774.4,93.3)(772.7,82.7)(770.9,78.3)(767.4,76.7)(760.5,76)};
% curve 4
\addplot[gray, line width=0.5pt] coordinates {(810.1,69)(800,68.5)(792,66)(785,65.5)(770,63)(760.5,61.5)};
\addplot[gray, smooth, line width=0.5pt] coordinates {(788.0,66.1)(785.5,66.9)(783.0,70.2)(780.5,73.0)(778.0,70.2)(775.5,66.9)(773.0,66.1)};
\addplot[red, smooth, line width=0.6pt] coordinates {(798.9,67.0)(797.7,67.4)(796.5,68.8)(795.3,70.0)(794.1,68.8)(792.9,67.4)(791.7,67.0)};
\addplot[red, smooth, line width=0.6pt] coordinates {(780.6,64.1)(779.4,64.9)(778.2,68.2)(777.0,71.0)(775.8,68.2)(774.6,64.9)(773.4,64.1)};
\addplot[blue, smooth, line width=0.6pt] coordinates {(777.7,63.1)(776.6,63.7)(775.5,66.0)(774.4,68.0)(773.3,66.0)(772.2,63.7)(771.1,63.1)};
\addplot[black, line width=0.8pt] coordinates {(810.1,70)(809.2,69)(808.3,70.5)(807.4,69.2)(806.5,71)(805.6,69.8)(804.6,70.6)(803.5,69.8)(802.3,70.7)(800,70.3)(797,70.7)(795.3,72.7)(793.6,69.3)(791.8,66.7)(788,67.3)(784.9,68.3)(781.4,72.7)(778.8,76.7)(776.6,79)(774.8,77.3)(772.7,68.3)(770.9,63.3)(767.4,62)(760.5,61.3)};
% curve 5
\addplot[gray, line width=0.5pt] coordinates {(810.1,49)(800,44)(792,38.5)(785,36)(775,31)(770,29)(760.5,26.5)};
\addplot[gray, smooth, line width=0.5pt] coordinates {(785.4,35.2)(783.2,37.0)(781.0,44.1)(778.8,50.0)(776.6,44.1)(774.4,37.0)(772.2,35.2)};
\addplot[red, smooth, line width=0.6pt] coordinates {(799.3,40.0)(798.1,40.4)(796.9,41.8)(795.7,43.0)(794.5,41.8)(793.3,40.4)(792.1,40.0)};
\addplot[blue, smooth, line width=0.6pt] coordinates {(797.2,39.1)(796.0,40.1)(794.8,43.9)(793.6,47.0)(792.4,43.9)(791.2,40.1)(790.0,39.1)};
\addplot[red, smooth, line width=0.6pt] coordinates {(780.9,33.1)(779.6,34.4)(778.3,39.1)(777.0,43.0)(775.7,39.1)(774.4,34.4)(773.1,33.1)};
\addplot[blue, smooth, line width=0.6pt] coordinates {(778.3,30.2)(777.0,32.2)(775.7,39.7)(774.4,46.0)(773.1,39.7)(771.8,32.2)(770.5,30.2)};
\addplot[black, smooth, line width=0.8pt] coordinates {(810.1,50)(802.3,47.3)(797.9,45)(795.7,45.7)(793.6,48.3)(792.3,43.3)(790.9,36.7)(789.2,36)(786.6,39.3)(783.1,42.7)(780.5,48.3)(777.9,57.3)(776.1,60)(774.4,56)(772.7,45)(770.9,35)(769.2,29.3)(765.7,27.3)(760.5,26.7)};
% curve 6
\addplot[gray, line width=0.5pt] coordinates {(810.1,13)(800,13)(792,12)(785,11)(775,8)(770,6.5)(760.5,5.7)};
\addplot[gray, smooth, line width=0.5pt] coordinates {(783.9,9.1)(781.9,10.2)(779.9,14.5)(777.9,18.0)(775.9,14.5)(773.9,10.2)(771.9,9.1)};
\addplot[red, smooth, line width=0.6pt] coordinates {(798.5,12.1)(797.3,12.7)(796.1,15.0)(794.9,17.0)(793.7,15.0)(792.5,12.7)(791.3,12.1)};
\addplot[blue, smooth, line width=0.6pt] coordinates {(796.1,12.1)(795.1,12.9)(794.1,16.2)(793.1,19.0)(792.1,16.2)(791.1,12.9)(790.1,12.1)};
\addplot[red, smooth, line width=0.6pt] coordinates {(780.2,8.1)(779.0,9.2)(777.8,13.5)(776.6,17.0)(775.4,13.5)(774.2,9.2)(773.0,8.1)};
\addplot[blue, smooth, line width=0.6pt] coordinates {(777.7,7.2)(776.6,9.2)(775.5,16.7)(774.4,23.0)(773.3,16.7)(772.2,9.2)(771.1,7.2)};
\addplot[black, smooth, line width=0.8pt] coordinates {(810.1,13.3)(802.3,15)(798.8,13.3)(796.2,14)(794.9,17.3)(793.1,20)(791.8,13.3)(790.1,11)(786.6,13.3)(783.1,11.7)(779.6,16)(777.0,23.3)(775.3,26.7)(774.0,25)(772.2,13.3)(770.5,6.7)(767.4,6)(760.5,5.7)};
\begin{scope}[every node/.style={font=\fs{3.6}, anchor=west, inner sep=0.3pt, text=black!75}]
\node at (axis cs:771.2,129.5) {Mg/Co/Cu = 4:1:1};
\node at (axis cs:771.2,125.8) {(500 °C 3 h)};
\node at (axis cs:771.2,105) {Mg/Co/Cu = 4:1:2};
\node at (axis cs:771.2,81) {Mg/Co/Cu = 4:1:1.5};
\node at (axis cs:771.2,66) {Mg/Co/Cu = 4:1:1};
\node at (axis cs:771.2,41) {Mg/Co/Cu = 4:1:0.5};
\node at (axis cs:771.2,14) {Mg/Co = 4:1};
\end{scope}
\begin{scope}[every node/.style={font=\fs{6}, inner sep=0.3pt}]
\node at (axis cs:806.4,146.7) {Co 2p};
\node at (axis cs:802.3,141) {S\textsubscript{2}};
\node at (axis cs:794.4,150) {Co 2p\textsubscript{1/2}};
\node at (axis cs:796.2,140.5) {D\textsubscript{2}};
\node at (axis cs:792.8,136) {D\textsubscript{1}};
\node at (axis cs:784.5,137) {S\textsubscript{2}};
\node at (axis cs:782.0,139.5) {S\textsubscript{1}};
\node at (axis cs:775.9,152) {Co 2p\textsubscript{3/2}};
\node at (axis cs:776.2,144.3) {D\textsubscript{2}};
\node at (axis cs:772.4,135) {D\textsubscript{1}};
\end{scope}
\end{axis}
% panel labels
\begin{scope}[every node/.style={font=\sffamily\fs{13}, inner sep=0pt}]
\node at (11pt,370pt) {(a)};
\node at (204pt,370pt) {(b)};
\node at (478pt,370pt) {(c)};
\node at (11pt,183pt) {(d)};
\node at (258pt,183pt) {(e)};
\node at (485pt,183pt) {(f)};
\end{scope}
\end{tikzpicture}
\end{document}
